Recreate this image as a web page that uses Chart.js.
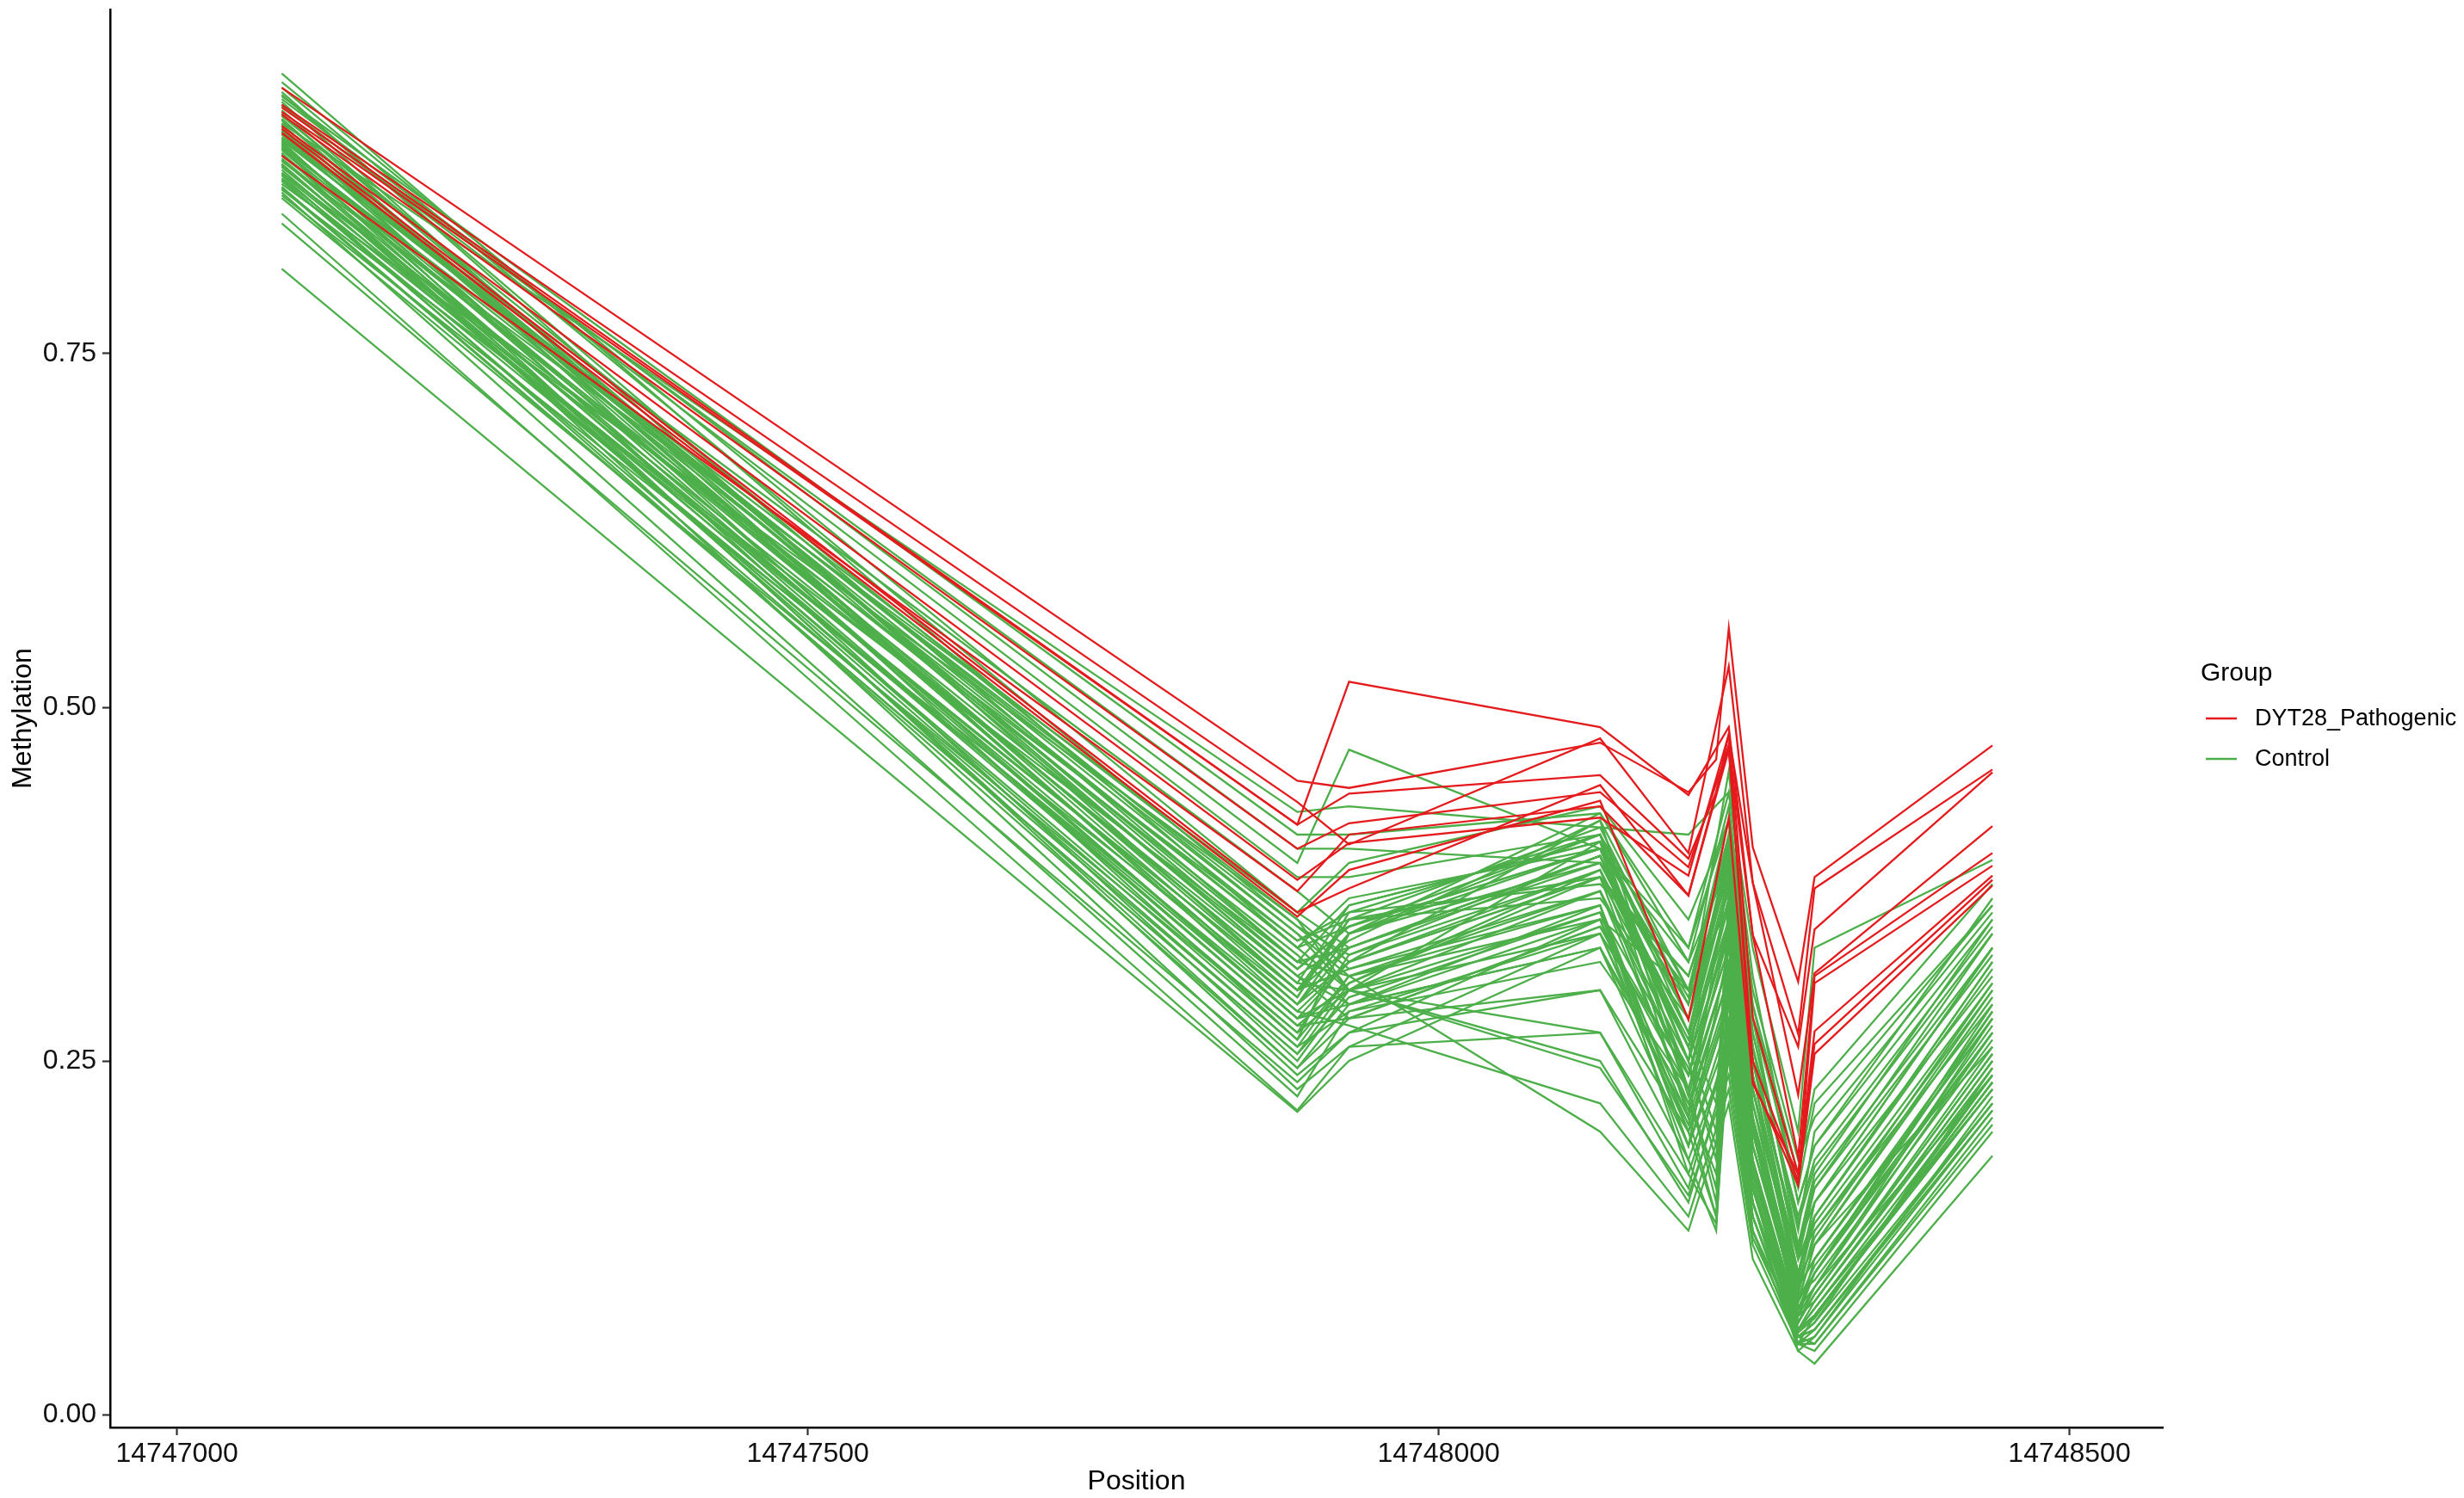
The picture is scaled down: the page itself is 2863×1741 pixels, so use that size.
<!DOCTYPE html>
<html>
<head>
<meta charset="utf-8">
<script src="https://cdn.jsdelivr.net/npm/chart.js@4.4.1/dist/chart.umd.min.js"></script>
<style>
body{margin:0;background:#fff;}
#wrap{width:2863px;height:1741px;}
</style>
</head>
<body>
<div id="wrap"><canvas id="mycanvas" width="2863" height="1741"></canvas></div>
<script>
// CpG positions (x)
var positions = [14747083, 14747888, 14747929, 14748128, 14748198, 14748220, 14748230, 14748249, 14748285, 14748298, 14748439];
var xTicks = [14747000, 14747500, 14748000, 14748500];
var yTicks = [0, 0.25, 0.5, 0.75];
var groups = ["DYT28_Pathogenic", "Control"];

// methylation per sample, one value per position (null = not measured)
var pathogenic = [
	[0.938, 0.448, 0.443, 0.475, 0.440, 0.463, 0.556, 0.401, 0.306, 0.380, 0.473],
	[0.926, 0.433, 0.403, 0.478, 0.397, null, 0.529, 0.376, 0.269, 0.372, 0.456],
	[0.924, 0.417, 0.518, 0.486, 0.438, null, 0.486, 0.339, 0.260, 0.343, 0.454],
	[0.921, 0.417, 0.439, 0.452, 0.393, 0.440, 0.481, 0.376, 0.226, 0.312, 0.416],
	[0.919, 0.400, 0.418, 0.440, 0.387, null, 0.473, 0.339, 0.182, 0.310, 0.397],
	[0.911, 0.378, 0.404, 0.422, 0.381, null, 0.481, 0.281, 0.170, 0.271, 0.381],
	[0.909, 0.355, 0.372, 0.445, 0.367, null, 0.473, 0.236, 0.162, 0.255, 0.374],
	[0.906, 0.352, 0.385, 0.434, 0.279, null, 0.422, 0.234, 0.170, 0.262, 0.378],
	[0.890, 0.370, 0.410, 0.430, 0.367, null, 0.470, 0.250, 0.165, 0.305, 0.388]
];
var control = [
	[0.948, 0.330, 0.300, 0.405, 0.210, null, 0.380, 0.220, 0.080, 0.120, 0.300],
	[0.942, 0.355, 0.330, 0.395, 0.250, null, 0.410, 0.250, 0.100, 0.150, 0.330],
	[0.935, 0.300, 0.350, 0.380, 0.300, null, 0.360, 0.200, 0.070, 0.090, 0.280],
	[0.930, 0.390, 0.470, 0.400, 0.330, null, 0.420, 0.300, 0.180, 0.210, 0.360],
	[0.928, 0.285, 0.320, 0.420, 0.230, 0.150, 0.300, 0.180, 0.060, 0.080, 0.250],
	[0.925, 0.400, 0.400, 0.390, 0.290, null, 0.455, 0.280, 0.120, 0.170, 0.350],
	[0.922, 0.310, 0.290, 0.360, 0.190, null, 0.330, 0.160, 0.050, 0.070, 0.230],
	[0.920, 0.265, 0.340, 0.410, 0.270, null, 0.390, 0.230, 0.090, 0.140, 0.320],
	[0.918, 0.340, 0.310, 0.350, 0.180, 0.130, 0.280, 0.140, 0.055, 0.060, 0.220],
	[0.915, 0.295, 0.355, 0.375, 0.310, null, 0.400, 0.260, 0.110, 0.160, 0.340],
	[0.913, 0.426, 0.430, 0.415, 0.410, null, 0.440, 0.330, 0.200, 0.330, 0.392],
	[0.910, 0.250, 0.300, 0.340, 0.240, null, 0.350, 0.190, 0.075, 0.100, 0.270],
	[0.908, 0.320, 0.330, 0.395, 0.260, 0.200, 0.370, 0.210, 0.085, 0.130, 0.290],
	[0.905, 0.280, 0.290, 0.330, 0.220, null, 0.310, 0.170, 0.065, 0.090, 0.240],
	[0.903, 0.370, 0.340, 0.425, 0.320, null, 0.430, 0.290, 0.150, 0.190, 0.365],
	[0.900, 0.240, 0.270, 0.300, 0.200, null, 0.290, 0.150, 0.060, 0.075, 0.230],
	[0.898, 0.305, 0.360, 0.405, 0.280, null, 0.395, 0.240, 0.095, 0.150, 0.310],
	[0.896, 0.345, 0.315, 0.370, 0.250, 0.180, 0.350, 0.200, 0.070, 0.110, 0.280],
	[0.894, 0.275, 0.305, 0.385, 0.230, null, 0.340, 0.190, 0.080, 0.120, 0.260],
	[0.892, 0.230, 0.260, 0.270, 0.170, null, 0.260, 0.130, 0.050, 0.060, 0.215],
	[0.890, 0.325, 0.290, 0.350, 0.300, null, 0.380, 0.250, 0.120, 0.160, 0.325],
	[0.888, 0.290, 0.340, 0.400, 0.260, null, 0.360, 0.210, 0.075, 0.100, 0.290],
	[0.886, 0.355, 0.390, 0.430, 0.350, null, 0.420, 0.270, 0.130, 0.200, 0.355],
	[0.884, 0.260, 0.310, 0.360, 0.200, 0.140, 0.270, 0.150, 0.045, 0.055, 0.225],
	[0.882, 0.310, 0.280, 0.345, 0.240, null, 0.330, 0.180, 0.065, 0.085, 0.255],
	[0.880, 0.270, 0.300, 0.250, 0.150, null, 0.250, 0.130, 0.060, 0.070, 0.235],
	[0.878, 0.335, 0.350, 0.415, 0.290, null, 0.390, 0.240, 0.100, 0.140, 0.315],
	[0.876, 0.245, 0.290, 0.330, 0.210, null, 0.300, 0.160, 0.055, 0.065, 0.245],
	[0.874, 0.300, 0.330, 0.390, 0.270, 0.220, 0.360, 0.200, 0.090, 0.110, 0.285],
	[0.872, 0.285, 0.275, 0.220, 0.140, null, 0.230, 0.120, 0.050, 0.045, 0.200],
	[0.870, 0.350, 0.320, 0.380, 0.310, null, 0.400, 0.260, 0.140, 0.180, 0.345],
	[0.868, 0.255, 0.295, 0.355, 0.190, null, 0.280, 0.150, 0.060, 0.070, 0.230],
	[0.866, 0.320, 0.360, 0.405, 0.250, null, 0.340, 0.190, 0.080, 0.100, 0.275],
	[0.864, 0.225, 0.285, 0.320, 0.230, 0.160, 0.320, 0.170, 0.070, 0.080, 0.250],
	[0.862, 0.295, 0.350, 0.365, 0.280, null, 0.370, 0.230, 0.110, 0.130, 0.300],
	[0.860, 0.270, 0.325, 0.395, 0.240, null, 0.330, 0.200, 0.085, 0.095, 0.265],
	[0.902, 0.340, 0.300, 0.270, 0.160, null, 0.270, 0.140, 0.055, 0.060, 0.220],
	[0.849, 0.215, 0.260, 0.340, 0.200, null, 0.290, 0.160, 0.060, 0.075, 0.240],
	[0.915, 0.310, 0.335, 0.420, 0.300, null, 0.410, 0.280, 0.160, 0.220, 0.360],
	[0.899, 0.280, 0.300, 0.370, 0.220, 0.170, 0.310, 0.170, 0.065, 0.085, 0.260],
	[0.895, 0.245, 0.280, 0.300, 0.180, null, 0.260, 0.140, 0.050, 0.050, 0.210],
	[0.905, 0.330, 0.345, 0.400, 0.320, null, 0.390, 0.250, 0.120, 0.150, 0.330],
	[0.884, 0.265, 0.310, 0.200, 0.130, null, 0.220, 0.110, 0.045, 0.036, 0.183],
	[0.842, 0.235, 0.270, 0.350, 0.210, 0.140, 0.300, 0.160, 0.060, 0.070, 0.235],
	[0.912, 0.290, 0.320, 0.385, 0.260, null, 0.350, 0.210, 0.090, 0.110, 0.280],
	[0.810, 0.214, 0.250, 0.330, 0.190, null, 0.270, 0.150, 0.055, 0.065, 0.220],
	[0.926, 0.380, 0.380, 0.410, 0.300, null, 0.420, 0.290, 0.170, 0.230, 0.375],
	[0.912, 0.300, 0.315, 0.360, 0.170, 0.135, 0.260, 0.130, 0.050, 0.055, 0.215],
	[0.897, 0.330, 0.365, 0.400, 0.250, null, 0.360, 0.200, 0.075, 0.090, 0.270],
	[0.887, 0.275, 0.280, 0.345, 0.230, null, 0.320, 0.180, 0.070, 0.080, 0.245],
	[0.877, 0.300, 0.340, 0.390, 0.270, null, 0.380, 0.230, 0.095, 0.120, 0.295],
	[0.867, 0.255, 0.305, 0.380, 0.215, null, 0.310, 0.170, 0.060, 0.070, 0.235],
	[0.901, 0.350, 0.300, 0.245, 0.155, null, 0.240, 0.125, 0.055, 0.050, 0.205],
	[0.919, 0.315, 0.345, 0.410, 0.280, null, 0.400, 0.260, 0.110, 0.140, 0.320],
	[0.932, 0.410, 0.410, 0.425, 0.330, null, 0.440, 0.310, 0.150, 0.190, 0.350],
	[0.938, 0.345, 0.325, 0.385, 0.265, null, 0.375, 0.230, 0.090, 0.125, 0.305],
	[0.933, 0.320, 0.310, 0.370, 0.240, null, 0.345, 0.200, 0.070, 0.100, 0.285],
	[0.916, 0.290, 0.330, 0.395, 0.280, null, 0.385, 0.250, 0.115, 0.165, 0.330],
	[0.907, 0.335, 0.355, 0.410, 0.225, null, 0.320, 0.175, 0.065, 0.085, 0.255],
	[0.895, 0.305, 0.300, 0.355, 0.245, 0.190, 0.340, 0.205, 0.080, 0.105, 0.270],
	[0.883, 0.280, 0.320, 0.380, 0.260, null, 0.365, 0.220, 0.100, 0.135, 0.305],
	[0.873, 0.260, 0.285, 0.340, 0.205, null, 0.295, 0.165, 0.058, 0.068, 0.240],
	[0.891, 0.315, 0.345, 0.400, 0.295, null, 0.405, 0.270, 0.135, 0.175, 0.340]
];
var colors = ["#E41A1C", "#4DAF4A"];

Chart.defaults.font.family = "'Liberation Sans', Arial, sans-serif";
Chart.defaults.color = "#111";

function makeSet(vals, group, color){
	return {
		label: group,
		data: positions.map(function(x, i){ return {x: x, y: vals[i]}; }),
		borderColor: color,
		backgroundColor: color,
		borderWidth: 2.3,
		pointRadius: 0,
		tension: 0,
		spanGaps: true,
		fill: false
	};
}

var datasets = [];
// first dataset is drawn on top, so the red group goes first
for(var i in pathogenic) datasets.push(makeSet(pathogenic[i], groups[0], colors[0]));
for(var j in control) datasets.push(makeSet(control[j], groups[1], colors[1]));

var legendPlugin = {
	id: 'groupLegend',
	afterDraw: function(chart){
		var ctx = chart.ctx;
		ctx.save();
		ctx.fillStyle = "#000";
		ctx.textBaseline = "middle";
		ctx.textAlign = "left";
		ctx.font = "30px 'Liberation Sans', Arial, sans-serif";
		ctx.fillText("Group", 2557, 783);
		ctx.font = "27px 'Liberation Sans', Arial, sans-serif";
		var ys = [835, 882];
		for(var k = 0; k < groups.length; k++){
			ctx.strokeStyle = colors[k];
			ctx.lineWidth = 2.5;
			ctx.beginPath();
			ctx.moveTo(2563, ys[k]);
			ctx.lineTo(2599, ys[k]);
			ctx.stroke();
			ctx.fillStyle = "#000";
			ctx.fillText(groups[k], 2620, ys[k] + 1);
		}
		ctx.restore();
	}
};

var ctx = document.getElementById("mycanvas");
var chart = new Chart(ctx, {
	type: 'line',
	data: {datasets: datasets},
	plugins: [legendPlugin],
	options: {
		responsive: false,
		animation: false,
		layout: {padding: {top: 11, right: 350, left: 0, bottom: 0}},
		plugins: {legend: {display: false}, tooltip: {enabled: false}},
		scales: {
			x: {
				type: 'linear',
				min: 14746947,
				max: 14748574,
				afterBuildTicks: function(s){ s.ticks = xTicks.map(function(v){ return {value: v}; }); },
				afterFit: function(s){ s.height = 82; s.paddingLeft = 0; s.paddingRight = 0; },
				ticks: {
					font: {size: 32},
					color: "#111",
					padding: 3,
					maxRotation: 0,
					callback: function(v){ return String(v); }
				},
				grid: {drawOnChartArea: false, drawTicks: true, tickLength: 9, tickWidth: 2.2, tickColor: "#333"},
				border: {display: true, color: "#000", width: 2.5},
				title: {display: true, text: "Position", font: {size: 32}, color: "#000", padding: {top: 0, bottom: 0}}
			},
			y: {
				type: 'linear',
				min: -0.0091,
				max: 0.9933,
				afterBuildTicks: function(s){ s.ticks = yTicks.map(function(v){ return {value: v}; }); },
				afterFit: function(s){ s.width = 128; s.paddingTop = 0; s.paddingBottom = 0; },
				ticks: {
					font: {size: 32},
					color: "#111",
					padding: 7,
					callback: function(v){ return Number(v).toFixed(2); }
				},
				grid: {drawOnChartArea: false, drawTicks: true, tickLength: 9, tickWidth: 2.2, tickColor: "#333"},
				border: {display: true, color: "#000", width: 2.5},
				title: {display: true, text: "Methylation", font: {size: 32}, color: "#000", padding: {top: 8, bottom: 0}}
			}
		}
	}
});
</script>
</body>
</html>
